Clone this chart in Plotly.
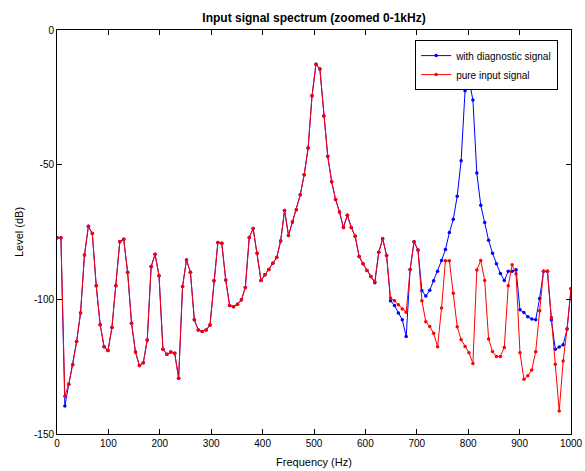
import plotly.graph_objects as go

# Spectrum bins (0..1000 Hz), level in dB
bin_hz = 1000 / 131

pure_input_db = [
    -77.1, -77.1, -136.0, -131.5, -124.3, -115.7, -105.1, -83.5, -72.9, -75.6,
    -95.0, -109.4, -117.6, -119.0, -110.5, -95.0, -78.6, -77.7, -89.9, -108.9,
    -119.6, -124.6, -123.5, -115.1, -87.8, -83.3, -91.2, -118.5, -120.4, -119.6,
    -120.0, -129.3, -95.2, -85.4, -89.9, -107.6, -111.4, -111.9, -111.4, -109.5,
    -93.1, -78.9, -79.2, -92.8, -102.3, -102.8, -101.8, -100.2, -95.6, -77.0,
    -73.7, -82.9, -93.0, -90.9, -88.9, -86.6, -84.5, -78.3, -67.0, -76.3,
    -71.3, -66.7, -61.2, -53.7, -43.8, -24.4, -12.7, -14.5, -31.9, -46.9,
    -56.3, -62.9, -67.6, -73.3, -68.8, -73.3, -76.6, -84.1, -86.8, -89.3,
    -91.5, -93.5, -82.5, -77.5, -83.7, -99.5, -100.5, -102.0, -103.6, -104.8,
    -88.9, -78.6, -81.7, -100.5, -108.3, -110.1, -112.6, -117.6, -103.2, -85.7,
    -85.7, -97.7, -110.2, -115.0, -117.5, -119.8, -123.8, -89.1, -85.6, -93.0,
    -114.7, -119.4, -121.2, -121.2, -117.9, -95.0, -87.2, -90.6, -119.8, -129.7,
    -128.4, -126.2, -119.5, -104.2, -89.6, -89.6, -106.7, -124.1, -141.5, -122.9,
    -111.0, -96.1,
]

with_diagnostic_db = [
    -77.1, -77.1, -139.6, -131.5, -124.3, -115.7, -105.1, -83.5, -72.9, -75.6,
    -95.0, -109.4, -117.6, -119.0, -110.5, -95.0, -78.6, -77.7, -89.9, -108.9,
    -119.6, -124.6, -123.5, -115.1, -87.8, -83.3, -91.2, -118.5, -120.4, -119.6,
    -120.0, -129.3, -95.2, -85.4, -89.9, -107.6, -111.4, -111.9, -111.4, -109.5,
    -93.1, -78.9, -79.2, -92.8, -102.3, -102.8, -101.8, -100.2, -95.6, -77.0,
    -73.7, -82.9, -93.0, -90.9, -88.9, -86.6, -84.5, -78.3, -67.0, -76.3,
    -71.3, -66.7, -61.2, -53.7, -43.8, -24.4, -12.7, -14.5, -31.9, -46.9,
    -56.3, -62.9, -67.6, -73.3, -68.8, -73.3, -76.6, -84.1, -86.8, -89.3,
    -91.5, -93.8, -82.5, -77.5, -83.7, -100.5, -102.3, -105.1, -107.6, -113.8,
    -88.9, -78.6, -81.7, -96.8, -98.8, -96.6, -93.1, -89.6, -85.6, -81.5,
    -75.2, -70.3, -61.7, -48.5, -22.6, -18.4, -26.0, -53.1, -65.1, -71.5,
    -78.1, -82.9, -86.8, -90.4, -93.0, -89.6, -89.6, -89.0, -103.9, -104.9,
    -106.5, -107.3, -107.6, -99.7, -89.6, -89.6, -107.7, -118.5, -117.7, -116.9,
    -111.0, -96.1,
]

freq_hz = [i * bin_hz for i in range(len(pure_input_db))]

x_ticks = [0, 100, 200, 300, 400, 500, 600, 700, 800, 900, 1000]
y_ticks = [0, -50, -100, -150]
y_tick_text = ["0", "-50", "-100", "-150"]

font_family = "Liberation Sans, Arial, Helvetica, sans-serif"

fig = go.Figure()
fig.add_trace(go.Scatter(
    x=freq_hz, y=with_diagnostic_db, mode="lines+markers",
    name="with diagnostic signal",
    line=dict(color="#0000ff", width=1),
    marker=dict(color="#0000ff", size=3.5, symbol="circle"),
))
fig.add_trace(go.Scatter(
    x=freq_hz, y=pure_input_db, mode="lines+markers",
    name="pure input signal",
    line=dict(color="#ff0000", width=1),
    marker=dict(color="#ff0000", size=3.5, symbol="circle"),
))

axis_common = dict(
    showline=True, linecolor="black", linewidth=1, mirror="ticks",
    ticks="inside", ticklen=5, tickcolor="black", tickwidth=1,
    showgrid=False, zeroline=False, automargin=False,
    tickfont=dict(family=font_family, size=10, color="black"),
)

fig.update_layout(
    width=585, height=471,
    margin=dict(l=57, r=14, t=30, b=37),
    paper_bgcolor="white", plot_bgcolor="white",
    font=dict(family=font_family, size=10, color="black"),
    title=dict(
        text="<b>Input signal spectrum (zoomed 0-1kHz)</b>",
        x=0.5, xref="paper", xanchor="center",
        y=1 - 18 / 471, yref="container", yanchor="middle",
        font=dict(family=font_family, size=12, color="black"),
    ),
    xaxis=dict(
        range=[0, 1000], tickvals=x_ticks,
        title=dict(text="Frequency (Hz)", standoff=10,
                   font=dict(family=font_family, size=11, color="black")),
        **axis_common,
    ),
    yaxis=dict(
        range=[-150, 0], tickvals=y_ticks, ticktext=y_tick_text,
        title=dict(text="Level (dB)", standoff=8,
                   font=dict(family=font_family, size=11, color="black")),
        **axis_common,
    ),
    legend=dict(
        x=0.975, y=0.975, xanchor="right", yanchor="top",
        bgcolor="white", bordercolor="black", borderwidth=1,
        font=dict(family=font_family, size=10, color="black"),
        tracegroupgap=0, itemwidth=30,
    ),
    showlegend=True,
)

fig.write_html("out.html")
